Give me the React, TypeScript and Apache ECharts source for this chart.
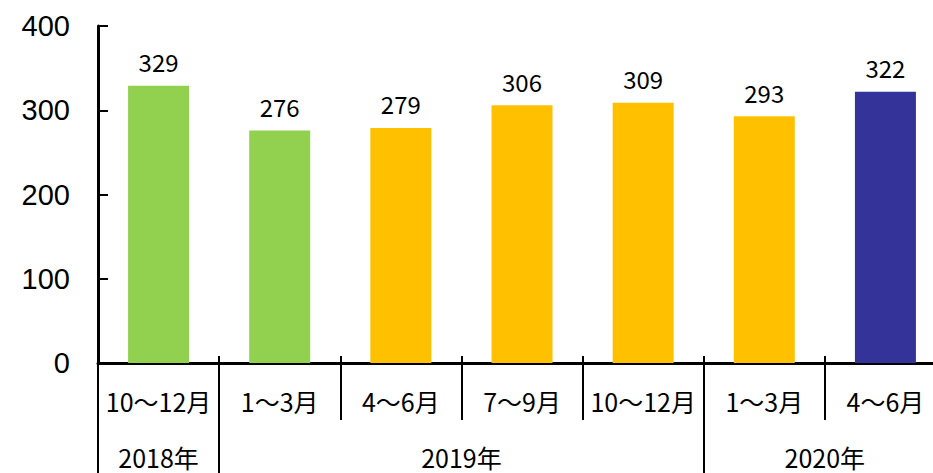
import React, { useEffect, useRef } from "react";
import * as echarts from "echarts";

const categories = ["10～12月", "1～3月", "4～6月", "7～9月", "10～12月", "1～3月", "4～6月"];
const values = [329, 276, 279, 306, 309, 293, 322];
const barColors = ["#92D050", "#92D050", "#FFC000", "#FFC000", "#FFC000", "#FFC000", "#333399"];
// lower row: half-category slots (boundaryGap false, 15 points)
const yearSlots = ["", "2018年", "", "", "", "", "2019年", "", "", "", "", "", "2020年", "", ""];
const yearLabelIdx = [1, 6, 12];
const yearTickIdx = [0, 2, 10];
const yTicks = { min: 0, max: 400, interval: 100 };

const CJK = "'Noto Sans CJK JP', 'Noto Sans', sans-serif";

export default function App() {
  const ref = useRef<HTMLDivElement>(null);
  useEffect(() => {
    if (!ref.current) return;
    const chart = echarts.init(ref.current, null, { renderer: "svg" });
    chart.setOption({
      animation: false,
      grid: { left: 98, right: 0, top: 26, bottom: 110, containLabel: false },
      xAxis: [
        {
          type: "category",
          data: categories,
          position: "bottom",
          boundaryGap: true,
          axisLine: { show: true, lineStyle: { color: "#000", width: 3 } },
          axisTick: { show: true, inside: false, length: 57, lineStyle: { color: "#000", width: 2 } },
          axisLabel: { color: "#000", fontSize: 25, fontFamily: CJK, margin: 25, interval: 0 },
          splitLine: { show: false },
        },
        {
          type: "category",
          data: categories,
          position: "bottom",
          boundaryGap: true,
          axisLine: { show: false },
          axisTick: { show: true, inside: true, length: 7, lineStyle: { color: "#000", width: 2 } },
          axisLabel: { show: false },
          splitLine: { show: false },
        },
        {
          type: "category",
          data: yearSlots,
          position: "bottom",
          offset: 57,
          boundaryGap: false,
          axisLine: { show: false },
          axisTick: {
            show: true,
            inside: false,
            length: 60,
            interval: (i: number) => yearTickIdx.includes(i),
            lineStyle: { color: "#000", width: 2 },
          },
          axisLabel: {
            color: "#000",
            fontSize: 25,
            lineHeight: 25,
            fontFamily: CJK,
            margin: 24,
            interval: (i: number) => yearLabelIdx.includes(i),
          },
          splitLine: { show: false },
        },
      ],
      yAxis: {
        type: "value",
        min: yTicks.min,
        max: yTicks.max,
        interval: yTicks.interval,
        axisLine: { show: true, lineStyle: { color: "#000", width: 3 } },
        axisTick: { show: true, inside: true, length: 10, lineStyle: { color: "#000", width: 2 } },
        axisLabel: { color: "#000", fontSize: 29, fontFamily: "'Liberation Sans', Arial, sans-serif", margin: 28 },
        splitLine: { show: false },
      },
      series: [
        {
          type: "bar",
          xAxisIndex: 0,
          barWidth: 61,
          data: values.map((v, i) => ({ value: v, itemStyle: { color: barColors[i] } })),
          label: {
            show: true,
            position: "top",
            distance: 12,
            color: "#000",
            fontSize: 24,
            fontFamily: CJK,
          },
        },
      ],
    });
    return () => chart.dispose();
  }, []);
  return (
    <div style={{ position: "fixed", left: 0, top: 0, width: 933, height: 473, overflow: "hidden", background: "#fff" }}>
      <div ref={ref} style={{ width: 946, height: 473 }} />
    </div>
  );
}
